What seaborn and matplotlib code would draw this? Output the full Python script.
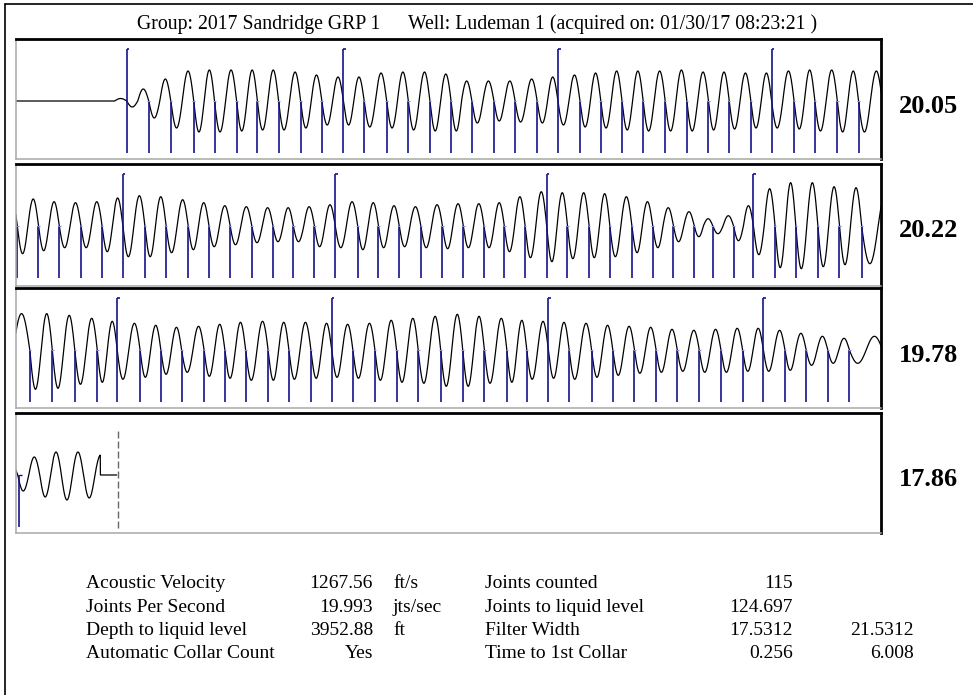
import numpy as np
import pandas as pd
import matplotlib
matplotlib.use("Agg")
import matplotlib.pyplot as plt
import seaborn as sns
from matplotlib.lines import Line2D

sns.set_theme(style="white")
plt.rcParams["font.family"] = ["Liberation Serif", "DejaVu Serif"]
plt.rcParams["text.color"] = "black"

# header
GROUP_TEXT = "Group: 2017 Sandridge GRP 1"
WELL_TEXT = "Well: Ludeman 1 (acquired on: 01/30/17 08:23:21 )"

# each panel shows 2 s of the shot
PANEL_SPAN = 2.0
PANEL_RATES = [20.05, 20.22, 19.78, 17.86]

# collar times (s) read per panel; every 10th collar is drawn tall
COLLARS_P1 = [0.256, 0.307, 0.358, 0.411, 0.459, 0.510, 0.558, 0.607, 0.658, 0.707,
              0.757, 0.805, 0.857, 0.907, 0.957, 1.006, 1.054, 1.105, 1.154, 1.205,
              1.253, 1.304, 1.352, 1.401, 1.450, 1.501, 1.551, 1.601, 1.649, 1.699,
              1.747, 1.799, 1.847, 1.899, 1.948]
COLLARS_P2 = [2.003, 2.052, 2.100, 2.150, 2.199, 2.247, 2.298, 2.347, 2.398, 2.446,
              2.495, 2.545, 2.594, 2.641, 2.690, 2.738, 2.790, 2.838, 2.886, 2.936,
              2.986, 3.034, 3.082, 3.129, 3.177, 3.227, 3.275, 3.325, 3.373, 3.424,
              3.472, 3.520, 3.568, 3.611, 3.659, 3.705, 3.755, 3.803, 3.854, 3.904,
              3.955]
COLLARS_P3 = [4.032, 4.084, 4.136, 4.188, 4.234, 4.287, 4.335, 4.383, 4.435, 4.483,
              4.531, 4.583, 4.631, 4.682, 4.730, 4.779, 4.830, 4.880, 4.930, 4.982,
              5.033, 5.083, 5.135, 5.181, 5.231, 5.279, 5.331, 5.380, 5.430, 5.480,
              5.529, 5.580, 5.630, 5.680, 5.728, 5.778, 5.827, 5.877, 5.927]

# trough / peak size of each joint cycle (cycle k runs from collar k to k+1)
TROUGH_P1 = [6, 17, 27, 31, 31, 30, 29, 29, 27, 24, 24, 26, 27, 29, 30, 30, 22,
             20, 21, 22, 24, 26, 27, 29, 30, 30, 30, 29, 28, 27, 27, 28, 30, 31, 31]
PEAK_P1 = [12, 22, 30, 31, 31, 31, 31, 29, 26, 24, 24, 28, 29, 29, 27, 20,
           20, 20, 22, 24, 26, 28, 30, 30, 30, 31, 29, 29, 28, 28, 30, 31, 31, 30, 30]
TROUGH_P2 = [28, 25, 22, 22, 26, 31, 31, 27, 24, 21, 19, 17, 16, 16, 21, 22, 24, 22, 21, 22,
             23, 22, 22, 26, 32, 36, 33, 32, 31, 27, 22, 16, 11, 8, 15, 29, 42, 43, 41, 39,
             38]
PEAK_P2 = [26.7, 24, 23, 24, 27.7, 30, 29, 26, 23, 20, 19, 18, 18, 19, 21, 24, 23, 20, 19, 21,
           22, 22, 23, 29, 34, 33, 33, 32, 29, 24, 18, 14, 7, 10, 20, 37, 43, 43, 39, 38,
           36.7]
TROUGH_P3 = [39, 38, 34, 32, 29, 27, 24, 22, 26, 28, 30, 30, 29, 28, 27, 28, 30, 32, 33, 36,
             36, 33, 32, 29, 28, 29, 27, 25, 23, 22, 21, 22, 22, 21, 21, 20, 15, 13, 13]
PEAK_P3 = [36.7, 35, 32, 29, 27, 25, 23, 24, 26, 28, 29, 28, 28, 27, 26, 27, 30, 32, 34, 36,
           34, 32, 30, 29, 28, 27, 25, 24, 23, 21, 20, 21, 22, 22, 20, 17, 14, 12, 14]

# signal before the first collar and the echo tail in the last panel
LEAD_START = 0.200
LEAD_PEAK = 2.5
TAIL_CROSS = [6.004, 6.055, 6.105, 6.156, 6.209]
TAIL_TROUGH = [16, 22, 25, 23]
TAIL_PEAK = [18, 23, 23, 20]
SIGNAL_END = 6.195
LIQUID_MARK_T = 6.008
LIQUID_LEVEL_T = 6.235

# summary table
LABELS_L = ["Acoustic Velocity", "Joints Per Second", "Depth to liquid level", "Automatic Collar Count"]
VALUES_L = ["1267.56", "19.993", "3952.88", "Yes"]
UNITS_L = ["ft/s", "jts/sec", "ft", ""]
LABELS_R = ["Joints counted", "Joints to liquid level", "Filter Width", "Time to 1st Collar"]
VALUES_R = ["115", "124.697", "17.5312", "0.256"]
VALUES_R2 = ["", "", "21.5312", "6.008"]

W, H = 973, 695
NAVY = "#14148c"
PANEL_BOX = [(39.3, 159.3, 101.0), (163.7, 285.7, 225.7), (287.7, 408.0, 350.3), (413.3, 532.7, 475.0)]
X_LEFT, X_RIGHT = 16, 881


def build_wave():
    collars = COLLARS_P1 + COLLARS_P2 + COLLARS_P3
    bounds = np.array([LEAD_START] + collars + TAIL_CROSS)
    troughs = np.array([0.0] + TROUGH_P1 + TROUGH_P2 + TROUGH_P3 + TAIL_TROUGH, dtype=float)
    peaks = np.array([LEAD_PEAK] + PEAK_P1 + PEAK_P2 + PEAK_P3 + TAIL_PEAK, dtype=float)
    t = np.arange(0, LIQUID_LEVEL_T - 0.002, 0.0004)
    y = np.zeros_like(t)
    idx = np.searchsorted(bounds, t, side="right") - 1
    ok = (idx >= 0) & (idx < len(bounds) - 1) & (t <= SIGNAL_END)
    i = idx[ok]
    ph = (t[ok] - bounds[i]) / (bounds[i + 1] - bounds[i])
    s = np.sin(2 * np.pi * ph)
    y[ok] = np.where(ph < 0.5, -troughs[i] * s, -peaks[i] * s)
    return pd.DataFrame({"t": t, "amp": y}), collars


wave_df, collars = build_wave()

fig = plt.figure(figsize=(W / 100, H / 100), dpi=100)

for p, (top, bot, mid) in enumerate(PANEL_BOX):
    ax = fig.add_axes([X_LEFT / W, 1 - bot / H, (X_RIGHT - X_LEFT) / W, (bot - top) / H])
    t0 = p * PANEL_SPAN
    sns.lineplot(data=wave_df, x="t", y="amp", ax=ax, color="black", lw=0.9,
                 estimator=None, sort=False)
    ct = [c for c in collars if t0 <= c < t0 + PANEL_SPAN]
    tall = [c for c in ct if collars.index(c) % 10 == 0]
    short = [c for c in ct if collars.index(c) % 10 != 0]
    ax.vlines(short, -52, 0, color=NAVY, lw=1.2)
    ax.hlines([0] * len(short), np.array(short) - 0.003, np.array(short) + 0.003,
              color="#8c8cd0", lw=0.8)
    ax.vlines(tall, -52, 52, color=NAVY, lw=1.2)
    ax.hlines([52] * len(tall), tall, np.array(tall) + 0.006, color=NAVY, lw=1.2)
    if p == 3:
        ax.vlines([LIQUID_MARK_T], -52, 0, color=NAVY, lw=1.2)
        ax.hlines([0], LIQUID_MARK_T - 0.002, LIQUID_MARK_T + 0.006, color=NAVY, lw=1.0)
        ax.vlines([LIQUID_LEVEL_T], -52.7, 47.3, color="#666666", lw=1.0,
                  linestyles=(0, (5, 2.2)))
    ax.set_xlim(t0, t0 + PANEL_SPAN)
    ax.set_ylim(-(bot - mid), mid - top)
    ax.set_xticks([])
    ax.set_yticks([])
    ax.set_xlabel("")
    ax.set_ylabel("")
    for side in ["top", "right"]:
        ax.spines[side].set_color("black")
        ax.spines[side].set_linewidth(2.0)
    for side in ["left", "bottom"]:
        ax.spines[side].set_color("#a8a8a8")
        ax.spines[side].set_linewidth(1.1)
    ax.text((899 - X_LEFT) / (X_RIGHT - X_LEFT), -11.5, f"{PANEL_RATES[p]:.2f}",
            transform=ax.get_yaxis_transform(), ha="left", va="baseline",
            fontsize=19, fontweight="bold", color="black")

# header text
fig.text(136.7 / W, 1 - 29.3 / H, GROUP_TEXT, ha="left", va="baseline", fontsize=14.2)
fig.text(408.3 / W, 1 - 29.3 / H, WELL_TEXT, ha="left", va="baseline", fontsize=14.2)

# summary table
row_base = [588.3, 611.7, 635.0, 658.3]
for r, yb in enumerate(row_base):
    yy = 1 - yb / H
    fig.text(86 / W, yy, LABELS_L[r], ha="left", va="baseline", fontsize=14)
    fig.text(373 / W, yy, VALUES_L[r], ha="right", va="baseline", fontsize=14)
    fig.text(393 / W, yy, UNITS_L[r], ha="left", va="baseline", fontsize=14)
    fig.text(485 / W, yy, LABELS_R[r], ha="left", va="baseline", fontsize=14)
    fig.text(793 / W, yy, VALUES_R[r], ha="right", va="baseline", fontsize=14)
    fig.text(914 / W, yy, VALUES_R2[r], ha="right", va="baseline", fontsize=14)

# outer frame (only top and left edges are inside the picture)
fig.add_artist(Line2D([5.3 / W, 1.0], [1 - 4.3 / H] * 2, transform=fig.transFigure,
                      color="black", lw=1.2))
fig.add_artist(Line2D([5.3 / W] * 2, [0.0, 1 - 4.3 / H], transform=fig.transFigure,
                      color="black", lw=1.2))

fig.savefig("out.png", dpi=100)
